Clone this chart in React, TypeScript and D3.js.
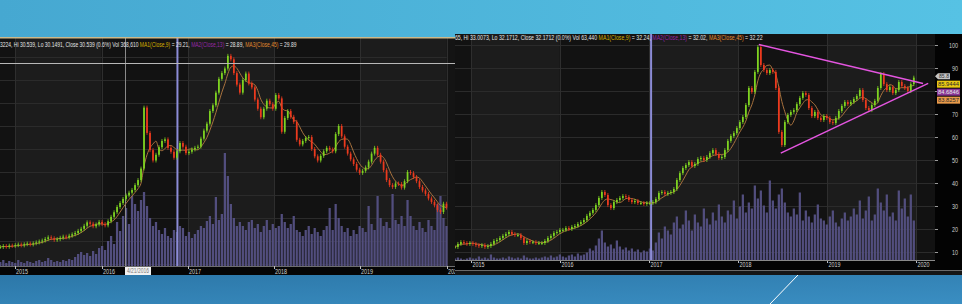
import React, { useLayoutEffect, useRef, useState } from "react";
import * as d3 from "d3";

// ---------------- DATA ----------------
const YEAR_TICKS = ["2015", "2016", "2017", "2018", "2019", "2020"];

// Left chart: closes sampled roughly every 12-13 calendar days
const LEFT_START = "2014-10-29";
const LEFT_END = "2019-12-31";
const LEFT_CLOSE = [
  13.4, 13.8, 13.5, 14.0, 13.9, 14.2, 14.5, 14.1, 14.6, 14.9,
  14.5, 15.0, 15.4, 15.8, 16.2, 16.9, 17.6, 17.2, 16.5, 16.8,
  17.4, 17.9, 17.6, 18.3, 18.9, 19.5, 20.4, 21.3, 22.6, 24.1,
  23.5, 22.4, 23.2, 24.3, 23.4, 22.8, 24.6, 26.5, 28.5, 30.8,
  32.5, 34.3, 35.8, 37.0, 38.2, 40.3, 42.5, 47.5, 74.0, 63.0,
  55.5, 51.0, 53.5, 56.8, 59.5, 60.2, 56.5, 54.8, 52.2, 55.0,
  58.6, 57.0, 54.2, 54.8, 55.8, 56.5, 57.0, 60.5, 64.0, 67.0,
  72.5, 75.0, 80.5, 86.5, 89.0, 91.0, 96.5, 95.0, 89.0, 84.0,
  80.5, 86.0, 88.8, 84.5, 82.8, 77.5, 73.5, 69.8, 73.5, 77.0,
  75.5, 73.5, 79.5, 78.0, 63.5, 69.5, 72.5, 70.0, 67.8, 60.0,
  58.0, 59.5, 60.8, 61.2, 56.0, 52.8, 51.0, 53.0, 55.0, 56.5,
  55.8, 55.0, 62.5, 66.0, 61.5, 57.0, 54.0, 51.5, 49.5, 47.0,
  45.6, 46.5, 48.0, 50.5, 54.0, 56.5, 53.5, 50.5, 46.8, 42.5,
  40.3, 39.5, 41.0, 40.8, 39.2, 42.0, 46.0, 45.5, 43.8, 42.0,
  39.5, 38.0, 36.5, 34.5, 33.0, 31.5, 29.5, 28.6, 32.2, 30.5,
];
const LEFT_VOLUME = [
  4, 6, 3, 5, 4, 3, 6, 4, 3, 5,
  4, 3, 5, 6, 4, 5, 8, 6, 4, 5,
  4, 6, 5, 7, 6, 9, 12, 14, 11, 13,
  10, 15, 12, 18, 20, 16, 25, 30, 22, 44,
  35, 50, 58, 42, 70, 62, 55, 66, 74, 60,
  48, 40, 44, 36, 32, 38, 30, 28, 36, 34,
  40, 38, 30, 34, 28, 32, 36, 40, 38, 45,
  50, 42, 69, 46, 52, 113, 90, 62, 48, 40,
  44, 40, 36, 44, 46, 38, 42, 34, 40, 46,
  36, 42, 38, 40, 52, 44, 38, 42, 50, 36,
  34, 30, 36, 40, 32, 38, 34, 30, 36, 40,
  58, 36, 62, 48, 40, 34, 38, 30, 36, 32,
  40, 38, 34, 60, 42, 36, 70, 48, 40, 44,
  38, 72, 46, 42, 50, 40, 66, 50, 40, 36,
  44, 38, 34, 46, 40, 36, 62, 70, 48, 40,
];
const LEFT_GRID = [96, 86, 76, 66, 56, 46, 36, 26, 16, 6];
const LEFT_CROSS_DATE = "2016-04-21";
const LEFT_CROSS_LABEL = "4/21/2016";
const LEFT_CROSS_PRICE = 93.4;
const LEFT_MARK_DATE = "2016-11-17";

// Right chart
const RIGHT_START = "2014-10-27";
const RIGHT_END = "2019-12-23";
const RIGHT_CLOSE = [
  12.2, 13.5, 14.3, 13.9, 13.5, 13.9, 13.5, 13.0, 12.6, 13.0,
  12.2, 12.6, 13.5, 14.8, 15.2, 16.1, 17.0, 17.8, 18.7, 17.8,
  17.4, 17.4, 16.1, 13.9, 14.8, 14.3, 14.3, 13.9, 13.9, 13.9,
  14.8, 16.1, 17.0, 18.3, 18.7, 19.6, 19.6, 20.4, 20.0, 20.9,
  21.3, 22.2, 23.0, 23.9, 25.7, 27.0, 28.3, 30.4, 33.5, 36.1,
  34.8, 30.4, 29.1, 31.7, 32.6, 33.5, 34.3, 33.9, 32.6, 31.7,
  32.2, 31.3, 31.3, 30.9, 31.3, 31.3, 31.7, 33.0, 35.7, 36.1,
  35.2, 35.7, 36.1, 37.4, 41.3, 44.3, 46.5, 47.8, 49.1, 47.4,
  48.3, 50.4, 50.9, 50.0, 51.3, 53.0, 54.3, 52.6, 50.9, 51.3,
  54.3, 58.3, 60.4, 61.7, 63.9, 66.5, 68.7, 73.9, 81.3, 79.6,
  88.3, 99.1, 91.3, 89.1, 87.8, 89.1, 88.3, 81.3, 62.2, 56.5,
  66.5, 69.6, 70.9, 71.7, 74.3, 77.0, 79.1, 78.3, 72.6, 69.1,
  70.9, 68.3, 67.4, 69.1, 68.3, 66.5, 66.1, 68.3, 71.3, 73.5,
  75.2, 74.3, 75.2, 76.5, 77.8, 80.4, 76.1, 72.6, 71.7, 73.9,
  75.7, 81.3, 87.4, 83.0, 80.4, 81.7, 79.1, 80.4, 83.9, 82.2,
  81.3, 80.0, 83.0, 85.8,
];
const RIGHT_VOLUME = [
  2, 3, 2, 1, 2, 3, 2, 2, 4, 2,
  3, 2, 6, 3, 2, 2, 3, 2, 4, 3,
  2, 3, 2, 5, 3, 2, 2, 3, 2, 3,
  4, 3, 5, 3, 4, 6, 4, 3, 5, 6,
  4, 7, 5, 6, 8, 12, 10, 15, 22, 30,
  18, 14, 16, 12, 20, 14, 11, 13, 10, 12,
  9, 11, 8, 10, 9, 12, 10, 18, 28, 22,
  34, 30, 26, 38, 44, 32, 36, 50, 40, 30,
  46, 38, 34, 52, 42, 36, 48, 40, 56, 44,
  38, 50, 46, 60, 42, 54, 66, 48, 58, 52,
  75, 62, 70, 55, 48, 80, 60, 52, 66, 72,
  58, 48, 44, 52, 46, 68, 40, 50, 44, 38,
  46, 56, 42, 40, 36, 44, 50, 38, 34, 42,
  48, 40, 44, 52, 46, 60, 42, 50, 64, 40,
  46, 72, 58, 50, 66, 44, 48, 40, 70, 52,
  62, 44, 66, 40,
];
const RIGHT_TICKS = [100, 90, 80, 70, 60, 50, 40, 30, 20, 10];
const RIGHT_MARK_DATE = "2017-01-09";
const RIGHT_LAST = "85.8";
const RIGHT_LAST_VALUE = 85.8;
const RIGHT_MA_TAGS = ["85.9444", "84.6846", "83.8257"];
// triangle trend lines: [date, value]
const TREND_UPPER: [string, number][] = [["2018-03-27", 100.2], ["2020-01-30", 83.3]];
const TREND_LOWER: [string, number][] = [["2018-06-25", 53.0], ["2020-02-20", 83.3]];

const LEFT_HEADER = [
  { t: "3224, Hi 30.539, Lo 30.1491, Close 30.539 (0.6%) Vol 368,610 ", k: "txt" },
  { t: "MA1(Close,9)", k: "ma1" },
  { t: " = 29.21, ", k: "txt" },
  { t: "MA2(Close,13)", k: "ma2" },
  { t: " = 28.89, ", k: "txt" },
  { t: "MA3(Close,45)", k: "ma3" },
  { t: " = 29.89", k: "txt" },
];
const RIGHT_HEADER = [
  { t: "165, Hi 33.0073, Lo 32.1712, Close 32.1712 (0.0%) Vol 63,440 ", k: "txt" },
  { t: "MA1(Close,9)", k: "ma1" },
  { t: " = 32.24, ", k: "txt" },
  { t: "MA2(Close,13)", k: "ma2" },
  { t: " = 32.02, ", k: "txt" },
  { t: "MA3(Close,45)", k: "ma3" },
  { t: " = 32.22", k: "txt" },
];

// ---------------- STYLE / LAYOUT ----------------
const FONT = "'Liberation Sans', Arial, sans-serif";
const HEADER_COLORS: Record<string, string> = {
  txt: "#e4e4e4",
  ma1: "#d6b000",
  ma2: "#9628a6",
  ma3: "#e0892e",
};
const UP = "#7ed321";
const DOWN = "#ec3a1e";
const VOL_FILL = "#524e7e";
const MA_COLOR = "#a8723e";
const BAND_LIGHT = "#1c1c1c";
const BAND_DARK = "#121212";
const GRID = "#2b2b2b";

const parse = (s: string) => new Date(s + "T00:00:00");
function evenDates(start: string, end: string, n: number) {
  const a = parse(start).getTime();
  const b = parse(end).getTime();
  return d3.range(n).map((i) => new Date(a + ((b - a) * i) / (n - 1)));
}
function sma(v: number[], w: number) {
  return v.map((_, i) => d3.mean(v.slice(Math.max(0, i - w + 1), i + 1)) as number);
}

type Panel = {
  x0: number;
  x1: number;
  plotRight: number;
  top: number;
  bottom: number;
  time: d3.ScaleTime<number, number>;
  price: d3.ScaleLinear<number, number>;
  vol: d3.ScaleLinear<number, number>;
  dates: Date[];
  closes: number[];
  volumes: number[];
  grid: number[];
};

function Plot({ p }: { p: Panel }) {
  const years = d3.range(2014, 2021);
  const step = p.time(p.dates[1]) - p.time(p.dates[0]);
  const bw = step * 0.75;
  return (
    <g>
      <rect x={p.x0} y={p.top} width={p.x1 - p.x0} height={p.bottom - p.top} fill="#141414" />
      {years.map((y) => {
        const a = Math.max(p.x0, p.time(new Date(y, 0, 1)));
        const b = Math.min(p.plotRight, p.time(new Date(y + 1, 0, 1)));
        if (b <= a) return null;
        return (
          <rect key={y} x={a} y={p.top} width={b - a} height={p.bottom - p.top} fill={y % 2 ? BAND_LIGHT : BAND_DARK} />
        );
      })}
      {p.grid.map((g) => (
        <line key={g} x1={p.x0} x2={p.plotRight} y1={Math.round(p.price(g)) + 0.5} y2={Math.round(p.price(g)) + 0.5} stroke={GRID} />
      ))}
      {YEAR_TICKS.map((t) => {
        const x = Math.round(p.time(new Date(+t, 0, 1))) + 0.5;
        return <line key={t} x1={x} x2={x} y1={p.top} y2={p.bottom} stroke="#2e2e2e" />;
      })}
      {p.volumes.map((v, i) => {
        const x = p.time(p.dates[i]);
        return <rect key={i} x={x - bw / 2} y={p.vol(v)} width={bw} height={p.bottom - p.vol(v)} fill={VOL_FILL} />;
      })}
    </g>
  );
}

function Candles({ p }: { p: Panel }) {
  const step = p.time(p.dates[1]) - p.time(p.dates[0]);
  const bw = Math.max(1.4, step * 0.58);
  const ma = sma(p.closes, 5);
  const maLine = d3
    .line<number>()
    .x((_, i) => p.time(p.dates[i]))
    .y((d) => p.price(d))
    .curve(d3.curveMonotoneX);
  return (
    <g>
      <path d={maLine(ma) || ""} fill="none" stroke={MA_COLOR} strokeWidth={1} />
      {p.closes.map((c, i) => {
        const o = i === 0 ? c : p.closes[i - 1];
        const x = p.time(p.dates[i]);
        const y1 = p.price(Math.max(o, c));
        const y2 = p.price(Math.min(o, c));
        const col = c >= o ? UP : DOWN;
        return (
          <g key={i}>
            <line x1={x} x2={x} y1={y1 - 2} y2={y2 + 2} stroke={col} strokeWidth={0.8} />
            <rect x={x - bw / 2} y={y1} width={bw} height={Math.max(1, y2 - y1)} fill={col} />
          </g>
        );
      })}
    </g>
  );
}

// A single text line (with coloured tspans) squeezed horizontally to a target width
function FitHeader({ items, x, y, width }: { items: { t: string; k: string }[]; x: number; y: number; width: number }) {
  const ref = useRef<SVGTextElement>(null);
  const [s, setS] = useState(0.62);
  useLayoutEffect(() => {
    if (ref.current) {
      const w = ref.current.getComputedTextLength();
      if (w > 0) setS(width / w);
    }
  }, [width]);
  return (
    <g transform={`translate(${x},${y}) scale(${s},1)`}>
      <text ref={ref} x={0} y={0} fontFamily={FONT} fontSize={8} style={{ whiteSpace: "pre" }} xmlSpace="preserve">
        {items.map((it, i) => (
          <tspan key={i} fill={HEADER_COLORS[it.k]}>
            {it.t}
          </tspan>
        ))}
      </text>
    </g>
  );
}

export default function App() {
  const W = 962;
  const H = 304;

  const left: Panel = {
    x0: 0,
    x1: 455,
    plotRight: 446.7,
    top: 38,
    bottom: 266,
    time: d3.scaleTime().domain([new Date(2015, 0, 1), new Date(2020, 0, 1)]).range([15.4, 446.7]),
    price: d3.scaleLinear().domain([96, 6]).range([57, 264]),
    vol: d3.scaleLinear().domain([0, 120]).range([266, 146]),
    dates: evenDates(LEFT_START, LEFT_END, LEFT_CLOSE.length),
    closes: LEFT_CLOSE,
    volumes: LEFT_VOLUME,
    grid: LEFT_GRID,
  };
  const right: Panel = {
    x0: 455,
    x1: 935,
    plotRight: 935,
    top: 34,
    bottom: 260.5,
    time: d3.scaleTime().domain([new Date(2015, 0, 1), new Date(2020, 0, 1)]).range([471, 916]),
    price: d3.scaleLinear().domain([100, 10]).range([45, 252]),
    vol: d3.scaleLinear().domain([0, 120]).range([260.5, 140.5]),
    dates: evenDates(RIGHT_START, RIGHT_END, RIGHT_CLOSE.length),
    closes: RIGHT_CLOSE,
    volumes: RIGHT_VOLUME,
    grid: RIGHT_TICKS,
  };

  const lCrossX = Math.round(left.time(parse(LEFT_CROSS_DATE))) - 2.5;
  const lMarkX = left.time(parse(LEFT_MARK_DATE));
  const rMarkX = right.time(parse(RIGHT_MARK_DATE));
  const lCrossY = Math.round(left.price(LEFT_CROSS_PRICE)) + 0.5;
  const trendLine = (pts: [string, number][]) =>
    d3.line<[string, number]>().x((d) => right.time(parse(d[0]))).y((d) => right.price(d[1]))(pts) || "";
  const lastY = right.price(RIGHT_LAST_VALUE) - 1.5;
  const tagTop = lastY - 3;
  const tagBottom = lastY + 4.5 + RIGHT_MA_TAGS.length * 8;
  const tagColors = [
    { bg: "#e8c814", fg: "#2a2a2a" },
    { bg: "#8a3796", fg: "#e8e8e8" },
    { bg: "#e89a4a", fg: "#2a2a2a" },
  ];

  return (
    <svg width={W} height={H} style={{ position: "absolute", left: 0, top: 0, display: "block" }} fontFamily={FONT}>
      <defs>
        <linearGradient id="topBlue" x1="0" x2="1" y1="0" y2="0">
          <stop offset="0" stopColor="#46a8d1" />
          <stop offset="1" stopColor="#56c2e4" />
        </linearGradient>
        <linearGradient id="botBlue" x1="0" x2="1" y1="0" y2="1">
          <stop offset="0" stopColor="#2c77a8" />
          <stop offset="1" stopColor="#3a8ec2" />
        </linearGradient>
        <clipPath id="clipL">
          <rect x={0} y={37} width={455} height={238} />
        </clipPath>
        <clipPath id="clipR">
          <rect x={455} y={34} width={507} height={241} />
        </clipPath>
        <clipPath id="clipRPlot">
          <rect x={455} y={34} width={480} height={226.5} />
        </clipPath>
      </defs>
      <rect x={0} y={0} width={W} height={H} fill="url(#topBlue)" />
      <rect x={0} y={274} width={W} height={30} fill="url(#botBlue)" />
      <line x1={798} y1={275} x2={770} y2={304} stroke="#ffffff" strokeWidth={1} />

      {/* LEFT CHART */}
      <g clipPath="url(#clipL)">
        <Plot p={left} />
        <line x1={lCrossX} x2={lCrossX} y1={38} y2={266} stroke="#8a8a8a" strokeWidth={1} />
        <line x1={lMarkX} x2={lMarkX} y1={38} y2={266} stroke="#8c8cd6" strokeWidth={2} />
        <Candles p={left} />
        <line x1={0} x2={455} y1={lCrossY} y2={lCrossY} stroke="#b8b8b8" strokeWidth={1} />
        <line x1={0} x2={455} y1={37.8} y2={37.8} stroke="#cdb98a" strokeWidth={1.5} />
        <FitHeader items={LEFT_HEADER} x={0} y={46.5} width={296} />
        <rect x={0} y={266} width={455} height={9} fill="#050505" />
        <line x1={0} x2={455} y1={266.5} y2={266.5} stroke="#6e6e6e" />
        {YEAR_TICKS.map((t) => {
          const x = Math.round(left.time(new Date(+t, 0, 1))) + 0.5;
          return (
            <g key={t}>
              <line x1={x} x2={x} y1={266} y2={269} stroke="#bdbdbd" />
              <text x={x + 0.5} y={273.5} fontSize={7} fill="#d2d2d2" textLength={12} lengthAdjust="spacingAndGlyphs">
                {t}
              </text>
            </g>
          );
        })}
        <rect x={lCrossX - 0.5} y={267} width={26} height={8} fill="#f2f2f2" />
        <text x={lCrossX + 12.5} y={273.3} fontSize={6.5} fill="#7a7a7a" textAnchor="middle" textLength={22} lengthAdjust="spacingAndGlyphs">
          {LEFT_CROSS_LABEL}
        </text>
      </g>

      {/* RIGHT CHART */}
      <g clipPath="url(#clipR)">
        <Plot p={right} />
        <line x1={rMarkX} x2={rMarkX} y1={34} y2={275} stroke="#8c8cd6" strokeWidth={2} />
        <g clipPath="url(#clipRPlot)">
          <Candles p={right} />
          <path d={trendLine(TREND_UPPER)} stroke="#e455e0" strokeWidth={1.5} fill="none" />
          <path d={trendLine(TREND_LOWER)} stroke="#e455e0" strokeWidth={1.5} fill="none" />
        </g>
        <FitHeader items={RIGHT_HEADER} x={452} y={39.5} width={310} />
        {/* y axis column */}
        <rect x={935} y={34} width={27} height={241} fill="#030303" />
        {RIGHT_TICKS.map((t) => {
          const y = right.price(t);
          const hidden = y > tagTop - 3 && y < tagBottom + 3;
          return (
            <g key={t}>
              <line x1={935} x2={938} y1={Math.round(y) + 0.5} y2={Math.round(y) + 0.5} stroke="#9a9a9a" />
              {!hidden && (
                <text x={958} y={y + 2.5} fontSize={7} fill="#cfcfcf" textAnchor="end" textLength={t >= 100 ? 9 : 6} lengthAdjust="spacingAndGlyphs">
                  {t}
                </text>
              )}
            </g>
          );
        })}
        <path
          d={`M935,${lastY} L938,${lastY - 3} L950,${lastY - 3} L950,${lastY + 3} L938,${lastY + 3} Z`}
          fill="#c4c4c4"
        />
        <text x={939} y={lastY + 2} fontSize={5.5} fill="#303030" textLength={10} lengthAdjust="spacingAndGlyphs">
          {RIGHT_LAST}
        </text>
        {RIGHT_MA_TAGS.map((t, i) => {
          const ty = lastY + 4.5 + i * 8;
          return (
            <g key={t}>
              <rect x={937} y={ty} width={23} height={7} fill={tagColors[i].bg} />
              <text x={938} y={ty + 5.3} fontSize={5.5} fill={tagColors[i].fg} textLength={21} lengthAdjust="spacingAndGlyphs">
                {t}
              </text>
            </g>
          );
        })}
        {/* x axis */}
        <rect x={455} y={261} width={480} height={9} fill="#040404" />
        <line x1={455} x2={935} y1={260.5} y2={260.5} stroke="#8a8a8a" />
        <rect x={455} y={270} width={507} height={5} fill="#151515" />
        <line x1={455} x2={962} y1={270.5} y2={270.5} stroke="#6a6a6a" />
        {YEAR_TICKS.map((t) => {
          const x = Math.round(right.time(new Date(+t, 0, 1))) + 0.5;
          return (
            <g key={t}>
              <line x1={x} x2={x} y1={261} y2={263} stroke="#bdbdbd" />
              <text x={x + 1} y={267.3} fontSize={7} fill="#d2d2d2" textLength={12} lengthAdjust="spacingAndGlyphs">
                {t}
              </text>
            </g>
          );
        })}
      </g>
    </svg>
  );
}
